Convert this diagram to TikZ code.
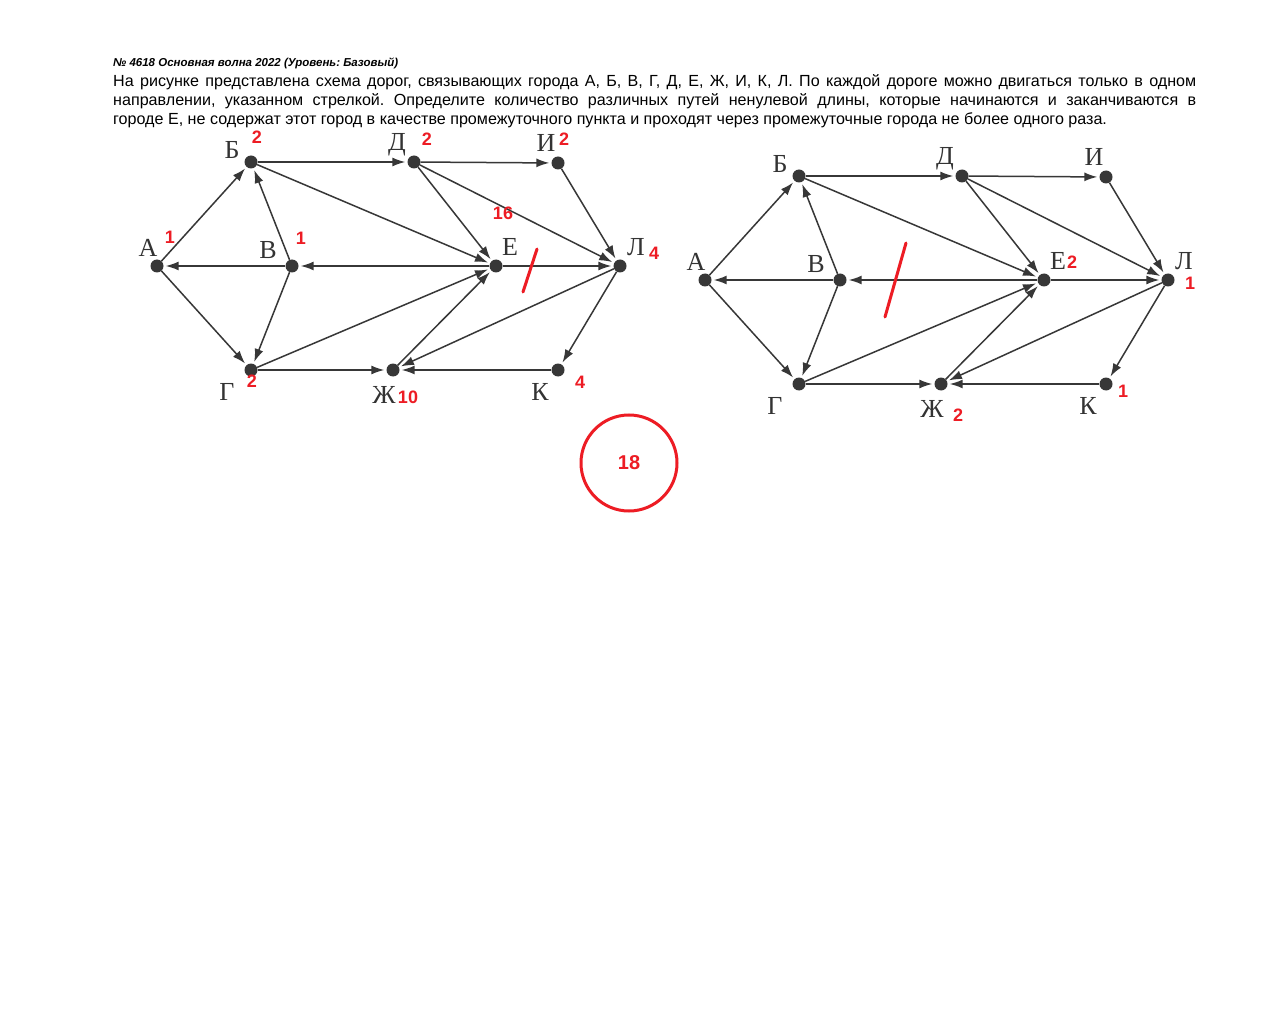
\documentclass[tikz,border=0pt]{standalone}
\usepackage{fontspec}
\setmainfont{Liberation Sans}
\newfontfamily\cityfont{Liberation Serif}
\usetikzlibrary{positioning, arrows.meta}
\frenchspacing

\definecolor{markred}{RGB}{237,28,36}
\definecolor{roadgray}{RGB}{55,55,55}

\begin{document}
\begin{tikzpicture}[
        x=1pt, y=-1pt,
        dot/.style = {circle, fill=roadgray, minimum size=13pt, inner sep=0pt},
        city/.style = {font=\cityfont\fontsize{26}{26}\selectfont, text=black!80, inner sep=0pt},
        num/.style = {font=\fontsize{18}{18}\selectfont\bfseries, text=markred, inner sep=0pt},
        txt/.style = {font=\fontsize{16.1}{19}\selectfont, inner sep=0pt, anchor=base west},
        road/.style = {draw=roadgray, line width=1.5pt, -{Latex[length=13pt, width=9pt]}, shorten >=2pt},
        slash/.style = {draw=markred, line width=3pt, line cap=round}
    ]
        \fill[white] (0,0) rectangle (1280,1024);
        \useasboundingbox (0,0) rectangle (1280,1024);

        \node[txt, font=\fontsize{11.5}{12}\selectfont\bfseries\itshape] (head) at (113,67) {№ 4618 Основная волна 2022 (Уровень: Базовый)};
        \node[txt] (line1) at (113,87) {\hbox to 1083pt{На рисунке представлена схема дорог, связывающих города А, Б, В, Г, Д, Е, Ж, И, К, Л. По каждой дороге можно двигаться только в одном}};
        \node[txt] (line2) at (113,106) {\hbox to 1083pt{направлении, указанном стрелкой. Определите количество различных путей ненулевой длины, которые начинаются и заканчиваются в}};
        \node[txt] (line3) at (113,125) {городе Е, не содержат этот город в качестве промежуточного пункта и проходят через промежуточные города не более одного раза.};

        \foreach \gx/\gy/\g in {0/0/l, 548/14/r} {
        \begin{scope}[shift={(\gx,\gy)}, name prefix=\g]
            \node[dot] (A) at (157,266) {};
            \node[dot] (B) at (251,162) {};
            \node[dot] (V) at (292,266) {};
            \node[dot] (G) at (251,370) {};
            \node[dot] (D) at (414,162) {};
            \node[dot] (I) at (558,163) {};
            \node[dot] (E) at (496,266) {};
            \node[dot] (L) at (620,266) {};
            \node[dot] (Zh) at (393,370) {};
            \node[dot] (K) at (558,370) {};

            \node[city] (tA) at (148,248) {А};
            \node[city] (tB) at (232,150) {Б};
            \node[city] (tV) at (268,250) {В};
            \node[city] (tG) at (227,392) {Г};
            \node[city] (tD) at (397,145) {Д};
            \node[city] (tI) at (546,143) {И};
            \node[city] (tE) at (510,247) {Е};
            \node[city] (tL) at (636,247) {Л};
            \node[city] (tZh) at (384,395) {Ж};
            \node[city] (tK) at (540,392) {К};

            \draw[road] (A) -- (B);
            \draw[road] (A) -- (G);
            \draw[road] (V) -- (A);
            \draw[road] (V) -- (B);
            \draw[road] (V) -- (G);
            \draw[road] (B) -- (D);
            \draw[road] (B) -- (E);
            \draw[road] (D) -- (I);
            \draw[road] (D) -- (E);
            \draw[road] (D) -- (L);
            \draw[road] (I) -- (L);
            \draw[road] (E) -- (V);
            \draw[road] (E) -- (L);
            \draw[road] (G) -- (E);
            \draw[road] (G) -- (Zh);
            \draw[road] (Zh) -- (E);
            \draw[road] (L) -- (Zh);
            \draw[road] (L) -- (K);
            \draw[road] (K) -- (Zh);
        \end{scope}
        }

        % counts, left graph
        \node[num] (nA) at (170,237) {1};
        \node[num] (nB) at (257,137) {2};
        \node[num] (nV) at (301,238) {1};
        \node[num] (nD) at (427,139) {2};
        \node[num] (nI) at (564,139) {2};
        \node[num] (nE) at (503,213) {16};
        \node[num] (nL) at (654,253) {4};
        \node[num] (nG) at (252,381) {2};
        \node[num] (nZh) at (408,397) {10};
        \node[num] (nK) at (580,382) {4};
        \draw[slash] (537,249) -- (523,292);

        % counts, right graph
        \node[num] (mE) at (1072,262) {2};
        \node[num] (mL) at (1190,283) {1};
        \node[num] (mK) at (1123,391) {1};
        \node[num] (mZh) at (958,415) {2};
        \draw[slash] (906,243) -- (885,317);

        \node[num, font=\fontsize{20}{20}\selectfont\bfseries, draw=markred, line width=3pt, circle, minimum size=96pt] (ans) at (629,463) {18};

    \end{tikzpicture}
\end{document}
